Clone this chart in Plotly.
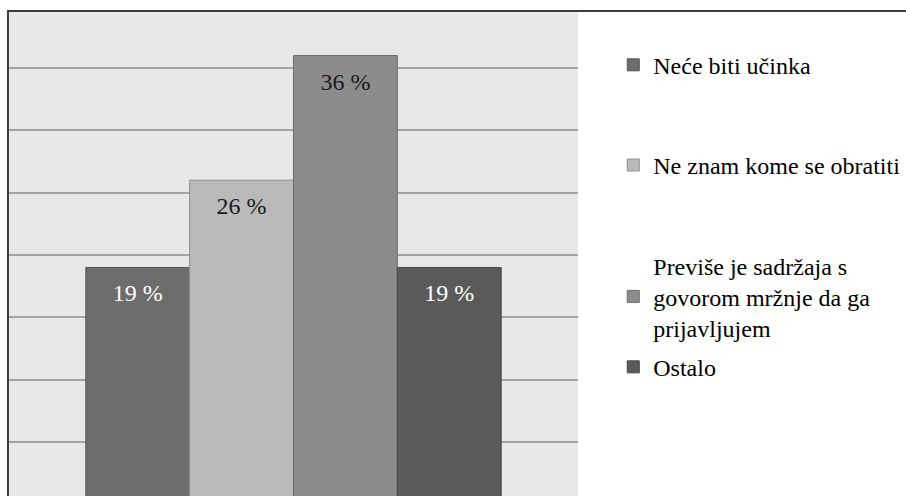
import plotly.graph_objects as go

# ---- data ----
category = [""]
series_names = [
    "Neće biti učinka",
    "Ne znam kome se obratiti",
    "Previše je sadržaja s<br>govorom mržnje da ga<br>prijavljujem",
    "Ostalo",
]
values = [19, 26, 36, 19]
value_labels = ["19 %", "26 %", "36 %", "19 %"]

# ---- style ----
bar_colors = ["#6d6d6d", "#bababa", "#8c8c8c", "#5a5a5a"]
edge_colors = ["#555555", "#8f8f8f", "#6e6e6e", "#454545"]
label_colors = ["#ffffff", "#1a1a1a", "#1a1a1a", "#ffffff"]
legend_ids = ["legend", "legend2", "legend3", "legend4"]
legend_y = [0.890, 0.683, 0.412, 0.266]
FONT = "Liberation Serif"

fig = go.Figure()
for i in range(len(values)):
    fig.add_trace(go.Bar(
        x=category,
        y=[values[i]],
        name=series_names[i],
        offsetgroup=f"g{i}",
        marker=dict(color=bar_colors[i], line=dict(color=edge_colors[i], width=1)),
        legend=legend_ids[i],
        hoverinfo="skip",
    ))
# value labels, aligned with the bars of the same offset group
for i in range(len(values)):
    fig.add_trace(go.Scatter(
        x=category,
        y=[values[i]],
        mode="markers+text",
        text=[value_labels[i]],
        textposition="bottom center",
        textfont=dict(family=FONT, size=24, color=label_colors[i]),
        marker=dict(size=24, opacity=0),
        offsetgroup=f"g{i}",
        showlegend=False,
        hoverinfo="skip",
    ))

layout_legends = {}
for i, lid in enumerate(legend_ids):
    layout_legends[lid] = dict(
        x=1.062, xanchor="left",
        y=legend_y[i], yanchor="middle",
        bgcolor="rgba(0,0,0,0)",
        font=dict(family=FONT, size=24, color="#000000"),
        itemclick=False, itemdoubleclick=False,
    )

fig.update_layout(
    width=906, height=496,
    margin=dict(l=9, r=328, t=12, b=0, pad=0, autoexpand=False),
    font=dict(family=FONT),
    paper_bgcolor="#ffffff",
    plot_bgcolor="#e8e8e8",
    barmode="group",
    scattermode="group",
    bargap=0.27,
    bargroupgap=0,
    showlegend=True,
    xaxis=dict(range=[-0.5, 0.5], showticklabels=False, showgrid=False,
               zeroline=False, showline=False, ticks=""),
    yaxis=dict(range=[0.67, 39.49], dtick=5, tick0=0, showticklabels=False,
               showgrid=True, gridcolor="#a3a3a3", gridwidth=1.5,
               zeroline=False, showline=False, ticks=""),
    shapes=[dict(type="rect", xref="paper", yref="paper",
                 x0=-0.0018, x1=1.7, y0=-0.2, y1=1.002,
                 line=dict(color="#3c3c3c", width=2), fillcolor="rgba(0,0,0,0)",
                 layer="above")],
    **layout_legends,
)

fig.write_html("out.html", config={"displayModeBar": False},
               post_script="document.body.style.margin='0px';")
